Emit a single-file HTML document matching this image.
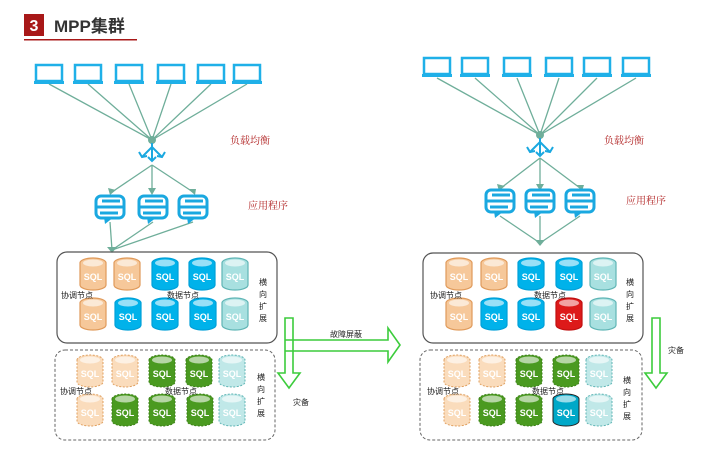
<!DOCTYPE html>
<html><head><meta charset="utf-8"><style>
html,body{margin:0;padding:0;background:#fff;}
svg{display:block;font-family:"Liberation Sans","Noto Sans CJK SC",sans-serif;}
.sql{font-size:9px;font-weight:bold;fill:#fff;text-anchor:middle;}
.lb{font-size:8px;fill:#222;}
.red{font-size:10px;fill:#b02020;font-family:"Noto Serif CJK SC",serif;}
</style></head><body>
<svg width="710" height="460" viewBox="0 0 710 460" xmlns="http://www.w3.org/2000/svg">
<defs>
<symbol id="lap" overflow="visible">
<rect x="-13" y="0" width="26" height="16" fill="#fff" stroke="#1fb0e8" stroke-width="2.5"/>
<rect x="-15" y="16" width="30" height="3" fill="#1fb0e8"/>
</symbol>
<symbol id="cyl" overflow="visible">
<path d="M-13,5 A13,5 0 0 1 13,5 V27 A13,5 0 0 1 -13,27 Z"/>
<ellipse cx="0" cy="5" rx="10" ry="3.5" fill="#fff" fill-opacity="0.6" stroke="none"/>
</symbol>
<symbol id="app" overflow="visible">
<rect x="-14" y="0" width="28" height="22" rx="5" fill="#fff" stroke="#1aa8e0" stroke-width="3"/>
<path d="M-14,11 H14 M-8,5 H10 M-10,17 H8" stroke="#1aa8e0" stroke-width="3" fill="none"/>
<path d="M-6,21 L4,21 L-5,28 Z" fill="#1aa8e0"/>
</symbol>
<symbol id="lb" overflow="visible">
<path d="M0,0 V18 M0,4 L-10,14 M0,4 L10,14" stroke="#1aa8e0" stroke-width="2" fill="none"/>
<path d="M-4,14 L0,18 L4,14 M-13,9 L-10,14 L-5,13 M13,9 L10,14 L5,13" stroke="#1aa8e0" stroke-width="2" fill="none"/>
</symbol>
</defs>

<!-- title -->
<rect x="24" y="14" width="20" height="22" fill="#a81818"/>
<text x="34" y="31" fill="#fff" font-size="16" font-weight="bold" text-anchor="middle">3</text>
<text x="54" y="32" fill="#333" font-size="17" font-weight="bold">MPP集群</text>
<rect x="24" y="39" width="113" height="1.5" fill="#a81818"/>

<!-- LEFT -->
<g stroke="#6fae9a" stroke-width="1.3" fill="none">
<path d="M49,84 L152,140 M88,84 L152,140 M129,84 L152,140 M171,84 L152,140 M211,84 L152,140 M247,84 L152,140"/>
<path d="M152,165 L112,192 M152,165 L152,192 M152,165 L193,192"/>
<path d="M110,222 L112,250 M153,222 L112,250 M193,222 L112,250"/>
</g>
<g fill="#6fae9a"><path d="M108,188 L116,190 L110,195 Z M148,188 L156,188 L152,195 Z M188,189 L196,189 L195,195 Z"/>
<circle cx="152" cy="140" r="4"/><path d="M107,247 L117,247 L112,253 Z"/></g>
<g><use href="#lap" x="49" y="65"/><use href="#lap" x="88" y="65"/><use href="#lap" x="129" y="65"/><use href="#lap" x="171" y="65"/><use href="#lap" x="211" y="65"/><use href="#lap" x="247" y="65"/></g>
<use href="#lb" x="152" y="143"/>
<use href="#app" x="110" y="196"/><use href="#app" x="153" y="196"/><use href="#app" x="193" y="196"/>
<text class="red" x="230" y="144">负载均衡</text>
<text class="red" x="248" y="209">应用程序</text>

<rect x="57" y="252" width="220" height="91" rx="10" fill="none" stroke="#555" stroke-width="1.2"/>
<rect x="55" y="350" width="220" height="90" rx="10" fill="none" stroke="#666" stroke-width="1" stroke-dasharray="3,2"/>

<!-- left solid cylinders -->
<g stroke-width="1.2">
<use href="#cyl" x="93" y="258" fill="#f6c89a" stroke="#e09a5a"/>
<use href="#cyl" x="127" y="258" fill="#f6c89a" stroke="#e09a5a"/>
<use href="#cyl" x="165" y="258" fill="#00b2ea" stroke="#00a0d8"/>
<use href="#cyl" x="202" y="258" fill="#00b2ea" stroke="#00a0d8"/>
<use href="#cyl" x="235" y="258" fill="#a8e0e0" stroke="#5fb5b5"/>
<use href="#cyl" x="93" y="298" fill="#f6c89a" stroke="#e09a5a"/>
<use href="#cyl" x="128" y="298" fill="#00b2ea" stroke="#00a0d8"/>
<use href="#cyl" x="165" y="298" fill="#00b2ea" stroke="#00a0d8"/>
<use href="#cyl" x="203" y="298" fill="#00b2ea" stroke="#00a0d8"/>
<use href="#cyl" x="235" y="298" fill="#a8e0e0" stroke="#5fb5b5"/>
</g>
<g class="sql">
<text x="93" y="280">SQL</text><text x="127" y="280">SQL</text><text x="165" y="280">SQL</text><text x="202" y="280">SQL</text><text x="235" y="280">SQL</text>
<text x="93" y="320">SQL</text><text x="128" y="320">SQL</text><text x="165" y="320">SQL</text><text x="203" y="320">SQL</text><text x="235" y="320">SQL</text>
</g>
<text class="lb" x="61" y="298">协调节点</text><text class="lb" x="167" y="298">数据节点</text>
<g class="lb"><text x="259" y="285">横</text><text x="259" y="297">向</text><text x="259" y="309">扩</text><text x="259" y="321">展</text></g>

<!-- left dashed cylinders -->
<g stroke-width="1" stroke-dasharray="2,1.5">
<use href="#cyl" x="90" y="355" fill="#fadcbc" stroke="#e0a060"/>
<use href="#cyl" x="125" y="355" fill="#fadcbc" stroke="#e0a060"/>
<use href="#cyl" x="162" y="355" fill="#4a9a20" stroke="#3a8015"/>
<use href="#cyl" x="199" y="355" fill="#4a9a20" stroke="#3a8015"/>
<use href="#cyl" x="232" y="355" fill="#c0e8e8" stroke="#5fb5b5"/>
<use href="#cyl" x="90" y="394" fill="#fadcbc" stroke="#e0a060"/>
<use href="#cyl" x="125" y="394" fill="#4a9a20" stroke="#3a8015"/>
<use href="#cyl" x="162" y="394" fill="#4a9a20" stroke="#3a8015"/>
<use href="#cyl" x="200" y="394" fill="#4a9a20" stroke="#3a8015"/>
<use href="#cyl" x="232" y="394" fill="#c0e8e8" stroke="#5fb5b5"/>
</g>
<g class="sql">
<text x="90" y="377">SQL</text><text x="125" y="377">SQL</text><text x="162" y="377">SQL</text><text x="199" y="377">SQL</text><text x="232" y="377">SQL</text>
<text x="90" y="416">SQL</text><text x="125" y="416">SQL</text><text x="162" y="416">SQL</text><text x="200" y="416">SQL</text><text x="232" y="416">SQL</text>
</g>
<text class="lb" x="60" y="394">协调节点</text><text class="lb" x="165" y="394">数据节点</text>
<g class="lb"><text x="257" y="380">横</text><text x="257" y="392">向</text><text x="257" y="404">扩</text><text x="257" y="416">展</text></g>

<!-- green arrows -->
<g fill="none" stroke="#3ccc3c" stroke-width="1.6">
<path d="M285,318 H293 V373 H300 L289,388 L278,373 H285 Z"/>
<path d="M285,340 H388 V328 L400,345 L388,362 V351 H285"/>
<path d="M652,318 H660 V373 H667 L656,388 L645,373 H652 Z"/>
</g>
<text class="lb" x="293" y="405">灾备</text>
<text class="lb" x="330" y="337">故障屏蔽</text>
<text class="lb" x="668" y="353">灾备</text>

<!-- RIGHT -->
<g stroke="#6fae9a" stroke-width="1.3" fill="none">
<path d="M437,78 L540,135 M475,78 L540,135 M517,78 L540,135 M559,78 L540,135 M597,78 L540,135 M636,78 L540,135"/>
<path d="M540,158 L501,188 M540,158 L540,188 M540,158 L580,188"/>
<path d="M500,216 L540,243 M540,216 L540,243 M580,216 L540,243"/>
</g>
<g fill="#6fae9a"><path d="M497,184 L505,186 L499,191 Z M536,184 L544,184 L540,191 Z M576,185 L584,185 L582,191 Z"/>
<circle cx="540" cy="135" r="4"/><path d="M535,240 L545,240 L540,246 Z"/></g>
<g><use href="#lap" x="437" y="58"/><use href="#lap" x="475" y="58"/><use href="#lap" x="517" y="58"/><use href="#lap" x="559" y="58"/><use href="#lap" x="597" y="58"/><use href="#lap" x="636" y="58"/></g>
<use href="#lb" x="540" y="138"/>
<use href="#app" x="500" y="190"/><use href="#app" x="540" y="190"/><use href="#app" x="580" y="190"/>
<text class="red" x="604" y="144">负载均衡</text>
<text class="red" x="626" y="204">应用程序</text>

<rect x="423" y="253" width="220" height="90" rx="10" fill="none" stroke="#555" stroke-width="1.2"/>
<rect x="420" y="350" width="222" height="90" rx="10" fill="none" stroke="#666" stroke-width="1" stroke-dasharray="3,2"/>

<g stroke-width="1.2">
<use href="#cyl" x="459" y="258" fill="#f6c89a" stroke="#e09a5a"/>
<use href="#cyl" x="494" y="258" fill="#f6c89a" stroke="#e09a5a"/>
<use href="#cyl" x="531" y="258" fill="#00b2ea" stroke="#00a0d8"/>
<use href="#cyl" x="569" y="258" fill="#00b2ea" stroke="#00a0d8"/>
<use href="#cyl" x="603" y="258" fill="#a8e0e0" stroke="#5fb5b5"/>
<use href="#cyl" x="459" y="298" fill="#f6c89a" stroke="#e09a5a"/>
<use href="#cyl" x="494" y="298" fill="#00b2ea" stroke="#00a0d8"/>
<use href="#cyl" x="531" y="298" fill="#00b2ea" stroke="#00a0d8"/>
<use href="#cyl" x="569" y="298" fill="#dd1a1a" stroke="#c01010"/>
<use href="#cyl" x="603" y="298" fill="#a8e0e0" stroke="#5fb5b5"/>
</g>
<g class="sql">
<text x="459" y="280">SQL</text><text x="494" y="280">SQL</text><text x="531" y="280">SQL</text><text x="569" y="280">SQL</text><text x="603" y="280">SQL</text>
<text x="459" y="320">SQL</text><text x="494" y="320">SQL</text><text x="531" y="320">SQL</text><text x="569" y="320">SQL</text><text x="603" y="320">SQL</text>
</g>
<text class="lb" x="430" y="298">协调节点</text><text class="lb" x="534" y="298">数据节点</text>
<g class="lb"><text x="626" y="285">横</text><text x="626" y="297">向</text><text x="626" y="309">扩</text><text x="626" y="321">展</text></g>

<g stroke-width="1" stroke-dasharray="2,1.5">
<use href="#cyl" x="457" y="355" fill="#fadcbc" stroke="#e0a060"/>
<use href="#cyl" x="492" y="355" fill="#fadcbc" stroke="#e0a060"/>
<use href="#cyl" x="529" y="355" fill="#4a9a20" stroke="#3a8015"/>
<use href="#cyl" x="566" y="355" fill="#4a9a20" stroke="#3a8015"/>
<use href="#cyl" x="599" y="355" fill="#c0e8e8" stroke="#5fb5b5"/>
<use href="#cyl" x="457" y="394" fill="#fadcbc" stroke="#e0a060"/>
<use href="#cyl" x="492" y="394" fill="#4a9a20" stroke="#3a8015"/>
<use href="#cyl" x="529" y="394" fill="#4a9a20" stroke="#3a8015"/>
<use href="#cyl" x="566" y="394" fill="#00a8c8" stroke="#222" stroke-dasharray="none"/>
<use href="#cyl" x="599" y="394" fill="#c0e8e8" stroke="#5fb5b5"/>
</g>
<g class="sql">
<text x="457" y="377">SQL</text><text x="492" y="377">SQL</text><text x="529" y="377">SQL</text><text x="566" y="377">SQL</text><text x="599" y="377">SQL</text>
<text x="457" y="416">SQL</text><text x="492" y="416">SQL</text><text x="529" y="416">SQL</text><text x="566" y="416">SQL</text><text x="599" y="416">SQL</text>
</g>
<text class="lb" x="427" y="394">协调节点</text><text class="lb" x="532" y="394">数据节点</text>
<g class="lb"><text x="623" y="383">横</text><text x="623" y="395">向</text><text x="623" y="407">扩</text><text x="623" y="419">展</text></g>
</svg>
</body></html>
